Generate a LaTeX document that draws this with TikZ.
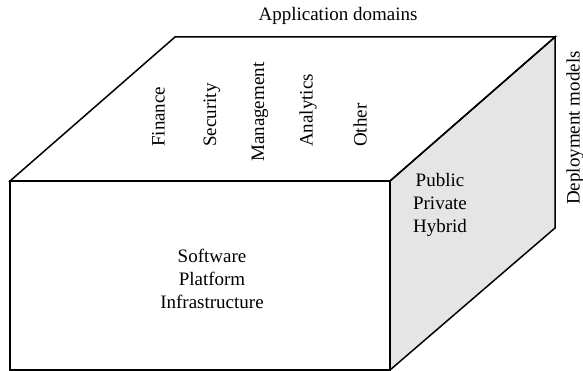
\documentclass[tikz,border=0pt]{standalone}
\usepackage{fontspec}
\setmainfont{Liberation Serif}
\begin{document}
\begin{tikzpicture}[x=1pt,y=-1pt,
  edge/.style={line width=1.5pt, line join=miter},
  lbl/.style={font=\fontsize{19}{23}\selectfont, align=center, inner sep=0pt},
  vlbl/.style={lbl, rotate=90}]
\useasboundingbox (0,0) rectangle (583,371);
% corners of the box
\coordinate (ftl) at (10,181);
\coordinate (ftr) at (390,181);
\coordinate (fbl) at (10,370);
\coordinate (fbr) at (390,370);
\coordinate (btl) at (175,37);
\coordinate (btr) at (555,37);
\coordinate (bbr) at (555,228);
% faces
\filldraw[edge, fill=gray!20] (ftr) -- (btr) -- (bbr) -- (fbr) -- cycle;
\draw[edge] (ftl) -- (btl) -- (btr) -- (ftr) -- cycle;
\draw[edge] (ftl) rectangle (fbr);
% labels
\node[lbl] (apps) at (338,16) {Application domains};
\node[vlbl] (deploy) at (575,128) {Deployment models};
\node[vlbl, anchor=west] (fin) at (158.5,147) {Finance};
\node[vlbl, anchor=west] (sec) at (212,147) {Security};
\node[vlbl, anchor=west] (mgt) at (260,162) {Management};
\node[vlbl, anchor=west] (ana) at (308,147) {Analytics};
\node[vlbl, anchor=west] (oth) at (360,147) {Other};
\node[lbl] (layers) at (212,279) {Software\\Platform\\Infrastructure};
\node[lbl] (models) at (440,205) {Public\\Private\\Hybrid};
\end{tikzpicture}
\end{document}
